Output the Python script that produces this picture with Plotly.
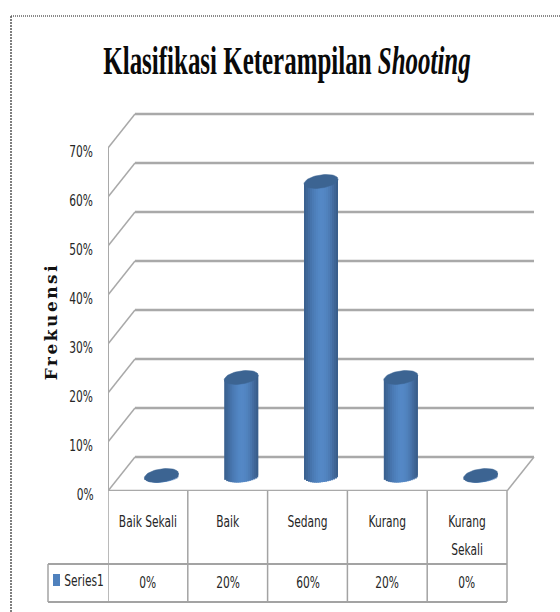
import numpy as np
import plotly.graph_objects as go

# data
categories = ['Baik Sekali', 'Baik', 'Sedang', 'Kurang', 'Kurang<br>Sekali']
values = [0, 20, 60, 20, 0]
y_ticks = [0, 10, 20, 30, 40, 50, 60, 70]
series_name = 'Series1'

# plot area in pixels, the rest of the layout is placed from it
W, H = 560, 612
LEFT, RIGHT, TOP, BOTTOM = 108, 540, 105, 491
x_unit = 79.8  # px per category
y_unit = 4.9  # px per percent

# fake 3d depth, in data units
depth_x = 27 / x_unit
depth_y = 34 / y_unit
half_w = 17 / x_unit
ell_h = 6.6 / y_unit
ell_tilt = 2.3 / y_unit

x_pos = list(range(len(categories)))
font = 'DejaVu Sans Condensed'
grid_col = '#a9a9a9'
cell_col = '#a3a3a3'
text_col = '#262626'


def px(v):
    return (v - LEFT) / (RIGHT - LEFT)


def py(v):
    return (BOTTOM - v) / (BOTTOM - TOP)


fig = go.Figure()

# cylinder body, thin bars side by side for the shading
strip_cols = ['#3a6190', '#3e6798', '#426da2', '#4674ac', '#4a7ab4', '#4d7fba', '#5083c0', '#5287c4',
              '#5488c6', '#5487c5', '#5285c2', '#5082bd', '#4d7cb6', '#4975ac', '#446ca0', '#3f6595', '#3a5e8b']
n = len(strip_cols)
strip_w = 2 * half_w / n
for k, col in enumerate(strip_cols):
    u = (k + 0.5) / n * 2 - 1
    curve = ell_h * np.sqrt(1 - u * u)
    base = [depth_y / 2 - 0.3 + ell_tilt * u - curve for v in values]
    # each strip runs under the next one so no seams show
    fig.add_trace(go.Bar(x=x_pos, y=[v + curve for v in values], base=base,
                         width=min(2.5, n - k) * strip_w, offset=depth_x / 2 - half_w + k * strip_w,
                         marker=dict(color=col, line=dict(width=0)),
                         showlegend=False, hoverinfo='skip'))

# top of each cylinder
t = np.linspace(0, 2 * np.pi, 60)
for xv, v in zip(x_pos, values):
    fig.add_trace(go.Scatter(x=xv + depth_x / 2 + half_w * np.cos(t),
                             y=v + depth_y / 2 - 0.3 + ell_h * np.sin(t) + ell_tilt * np.cos(t),
                             mode='lines', fill='toself', fillcolor='#3c6492',
                             line=dict(color='#3c6492', width=0.5),
                             showlegend=False, hoverinfo='skip'))

shapes = []


def line(x0, y0, x1, y1, color=grid_col, width=2, xref='x', yref='y', dash='solid'):
    shapes.append(dict(type='line', x0=x0, y0=y0, x1=x1, y1=y1, xref=xref, yref=yref,
                       layer='below', line=dict(color=color, width=width, dash=dash)))


# walls and floor
x_left, x_right = -0.5, len(categories) - 0.5
for tick in y_ticks:
    line(x_left, tick, x_left + depth_x, tick + depth_y, width=1.5)
    line(x_left + depth_x, tick + depth_y, x_right + depth_x, tick + depth_y, width=2.5)
line(x_left, 0, x_left, y_ticks[-1], width=2)
line(x_left, 0, x_right, 0, width=2.5)
line(x_right, 0, x_right + depth_x, depth_y, width=1.5)

# data table under the axis
row1, row2 = py(564), py(602)
for i in range(len(categories) + 1):
    line(x_left + i, 0, x_left + i, row2, color=cell_col, width=1.5, yref='paper')
line(x_left, row1, x_right, row1, color=cell_col, yref='paper')
line(px(48), row1, px(108), row1, color=cell_col, xref='paper', yref='paper')
line(x_left, row2, x_right, row2, color=cell_col, yref='paper')
line(px(48), row2, px(108), row2, color=cell_col, xref='paper', yref='paper')
line(px(48), row1, px(48), row2, color=cell_col, width=1.5, xref='paper', yref='paper')

# legend key
shapes.append(dict(type='rect', xref='paper', yref='paper', x0=px(53), x1=px(60), y0=py(574), y1=py(586),
                   fillcolor='#4f81bd', line=dict(width=0)))

# dotted frame of the page
line(px(11), py(16), px(560), py(16), color='#8a8a8a', width=2, xref='paper', yref='paper', dash='1px,1px')
line(px(11), py(16), px(11), py(612), color='#555555', width=1.5, xref='paper', yref='paper', dash='2px,1px')

annotations = [dict(text=series_name, xref='paper', yref='paper', x=px(57), y=py(581), xanchor='left',
                    yanchor='middle', showarrow=False, font=dict(family=font, size=15, color=text_col)),
               dict(text='<b>Frekuensi</b>', xref='paper', yref='paper', x=px(51), y=py(322), textangle=-90,
                    xanchor='center', yanchor='middle', showarrow=False,
                    font=dict(family='DejaVu Serif', size=17, color='#111111'))]
for xv, v in zip(x_pos, values):
    annotations.append(dict(text=f'{v}%', x=xv, xref='x', yref='paper', y=py(583), yanchor='middle',
                            showarrow=False, font=dict(family=font, size=15, color=text_col)))

fig.update_layout(
    width=W, height=H,
    margin=dict(l=LEFT, r=W - RIGHT, t=TOP, b=H - BOTTOM, autoexpand=False),
    paper_bgcolor='white', plot_bgcolor='white',
    barmode='overlay',
    title=dict(text='<b>Klasifikasi Keterampilan <i>Shooting</i></b>', x=287 / W, xanchor='center',
               y=1 - 60 / H, yanchor='middle', font=dict(family='Liberation Serif', size=40, color='#0a0a0a')),
    xaxis=dict(range=[x_left, x_left + (RIGHT - LEFT) / x_unit], tickvals=x_pos, ticktext=categories,
               showgrid=False, zeroline=False, showline=False, ticks='', ticklabelstandoff=20,
               tickfont=dict(family=font, size=15, color=text_col)),
    yaxis=dict(range=[0, (BOTTOM - TOP) / y_unit], tickvals=y_ticks, ticktext=[f'{v}%' for v in y_ticks],
               showgrid=False, zeroline=False, showline=False, ticks='', ticklabelstandoff=11,
               tickfont=dict(family=font, size=15, color=text_col)),
    shapes=shapes, annotations=annotations,
)

# the text in the picture is squeezed sideways, no narrow font is installed
squeeze = """
document.body.style.margin = '0';
function squeezeText(el, s, dy) {
    var box = el.getBBox();
    var cx = box.x + box.width / 2;
    var old = el.getAttribute('transform') || '';
    el.setAttribute('transform', old + ' matrix(' + s + ' 0 0 1 ' + (cx - s * cx) + ' ' + dy + ')');
}
squeezeText(document.querySelector('.gtitle'), 0.624, 0);
document.querySelectorAll('.xtick text').forEach(function (el) {
    var lines = el.querySelectorAll('tspan.line');
    if (lines.length > 1) { lines[1].setAttribute('dy', '1.87em'); }
    squeezeText(el, 0.79, 0);
});
document.querySelectorAll('.ytick text').forEach(function (el) { squeezeText(el, 0.79, 4); });
document.querySelectorAll('.annotation-text').forEach(function (el) {
    if (el.textContent === 'Frekuensi') { el.style.letterSpacing = '2.5px'; }
    else { squeezeText(el, 0.79, 0); }
});
"""
fig.write_html('out.html', post_script=squeeze, config=dict(displayModeBar=False))
